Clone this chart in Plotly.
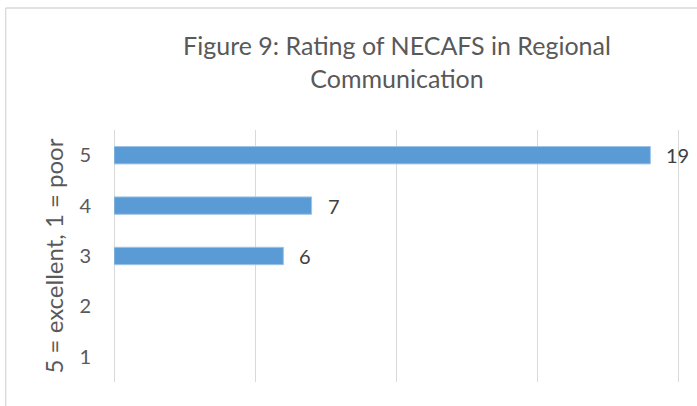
import plotly.graph_objects as go

# Ratings (5 = excellent, 1 = poor) and number of responses
ratings = ["1", "2", "3", "4", "5"]
counts = [0, 0, 6, 7, 19]

TITLE = "Figure 9: Rating of NECAFS in Regional<br>Communication"
Y_TITLE = "5 = excellent, 1 = poor"

W, H = 697, 406
L, R, T, B = 113.5, 16.6, 130, 24
pw, ph = W - L - R, H - T - B
FONT = "Lato, sans-serif"
GREY = "#595959"


def px(x):
    return (x - L) / pw


def py(y):
    return (H - B - y) / ph


fig = go.Figure()
fig.add_trace(go.Bar(
    y=ratings, x=counts, orientation="h",
    marker=dict(color="#5B9BD5",
                line=dict(color="#9DC3E6", width=[1 if c else 0 for c in counts])),
    hoverinfo="skip",
))

# value labels to the right of the bars (category axis -> use the index)
for i, c in enumerate(counts):
    if not c:
        continue
    fig.add_annotation(x=c, y=i, text=str(c), showarrow=False,
                       xanchor="left", xshift=14,
                       font=dict(family=FONT, size=20, color="#404040"))

# outer chart border (left + top visible in the crop)
border = dict(color="#D9D9D9", width=1.3)
fig.add_shape(type="line", xref="paper", yref="paper",
              x0=px(5), x1=px(5), y0=py(406), y1=py(8), line=border)
fig.add_shape(type="line", xref="paper", yref="paper",
              x0=px(5), x1=px(700), y0=py(8), y1=py(8), line=border)

fig.update_layout(
    width=W, height=H,
    margin=dict(l=L, r=R, t=T, b=B, pad=0),
    paper_bgcolor="white", plot_bgcolor="white",
    showlegend=False, bargap=0.655,
    font=dict(family=FONT, color=GREY),
    title=dict(text=TITLE, x=0.5, xref="paper", xanchor="center",
               y=1 - 55 / H, yanchor="top",
               font=dict(size=25, color=GREY)),
    xaxis=dict(range=[0, 20.05], tick0=0, dtick=5, showticklabels=False,
               showgrid=True, gridcolor="#D9D9D9", gridwidth=1.3,
               zeroline=True, zerolinecolor="#D9D9D9", zerolinewidth=1.3,
               showline=False, fixedrange=True, automargin=False),
    yaxis=dict(type="category", categoryorder="array", categoryarray=ratings,
               showgrid=False, showline=False, zeroline=False,
               ticks="", ticklabelstandoff=22, automargin=False,
               tickfont=dict(size=20, color=GREY),
               title=dict(text=Y_TITLE, standoff=8,
                          font=dict(size=24, color=GREY)),
               fixedrange=True),
)

fig.write_html("out.html", config={"displayModeBar": False},
               post_script="document.body.style.margin='0';")
